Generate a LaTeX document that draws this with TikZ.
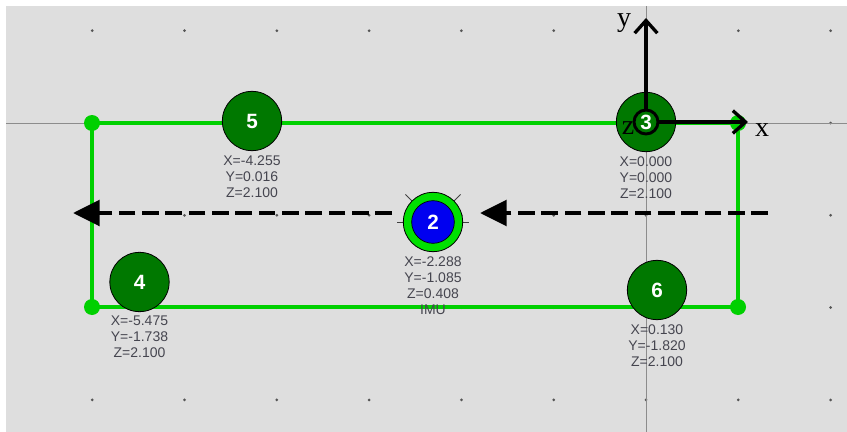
\documentclass[tikz,border=0pt]{standalone}
\usepackage{fontspec}
\setmainfont{Liberation Sans}
\newfontfamily\serifax{Liberation Serif}
\usetikzlibrary{arrows.meta}
\definecolor{bg}{HTML}{DEDEDE}
\definecolor{rectgreen}{HTML}{00D000}
\definecolor{nodegreen}{HTML}{007800}
\definecolor{imugreen}{HTML}{00E000}
\definecolor{imublue}{HTML}{0000F0}
\definecolor{labgray}{HTML}{45454F}
\definecolor{axgray}{HTML}{8C8C8C}
\definecolor{dotgray}{HTML}{555555}
\begin{document}
\begin{tikzpicture}[x=0.75pt,y=-0.75pt,
  numfont/.style={text=white, font=\fontsize{15.5}{15.5}\selectfont\bfseries},
  sensor/.style={circle, draw=black, line width=0.6pt, fill=nodegreen, minimum size=44.5pt, inner sep=0pt, numfont},
  coordlab/.style={text=labgray, font=\fontsize{10.5}{12}\selectfont, align=center, inner sep=0pt, anchor=north},
  greenline/.style={rectgreen, line width=3pt},
  cornerdot/.style={fill=rectgreen},
  axisline/.style={black, line width=2.5pt, -{Straight Barb[length=9.5pt,width=17pt]}},
  axislab/.style={font=\serifax\fontsize{21}{21}\selectfont, inner sep=0pt},
  dasharrow/.style={black, line width=3.5pt, dash pattern=on 12.5pt off 5pt, -{Triangle[length=20pt,width=19pt]}},
  tick/.style={black!75, line width=0.6pt}
]
% background
\useasboundingbox (0,0) rectangle (847,432);
\fill[white] (0,0) rectangle (847,432);
\fill[bg] (6,6) rectangle (847,432);
% grid dots
\foreach \i in {-6,...,2} \foreach \j in {-1,...,3}
  \fill[dotgray] ({646+\i*92.3},{123+\j*92.3}) circle (1.5);
% gray axes
\draw[axgray, line width=0.75pt] (6,123) -- (847,123);
\draw[axgray, line width=0.75pt] (646,6) -- (646,432);
% green rectangle
\coordinate (c1) at (92,123);
\coordinate (c2) at (738,123);
\coordinate (c3) at (738,307);
\coordinate (c4) at (92,307);
\draw[greenline] (c1) -- (c2) -- (c3) -- (c4) -- cycle;
\foreach \c in {c1,c2,c3,c4} \fill[cornerdot] (\c) circle (8);
% sensors
\node[sensor] (n5) at (252,121) {5};
\node[sensor] (n3) at (646,122) {};
\node[sensor] (n4) at (139.5,282) {4};
\node[sensor] (n6) at (657,290) {6};
% IMU node
\foreach \a in {0,180} \draw[tick] ([shift={(\a:28)}]433,222) -- ([shift={(\a:36)}]433,222);
\foreach \a in {-45,-135} \draw[tick] ([shift={(\a:29)}]433,222) -- ([shift={(\a:39)}]433,222);
\node[sensor, fill=imugreen] (n2) at (433,222) {};
\node[circle, draw=black, line width=0.5pt, fill=imublue, minimum size=32pt, inner sep=0pt, numfont] (n2in) at (n2.center) {2};
% coordinate labels
\node[coordlab] (l5) at ([yshift=-3pt]n5.south) {X=-4.255\\Y=0.016\\Z=2.100};
\node[coordlab] (l3) at ([yshift=-3.5pt]n3.south) {X=0.000\\Y=0.000\\Z=2.100};
\node[coordlab] (l4) at ([yshift=-3pt]n4.south) {X=-5.475\\Y=-1.738\\Z=2.100};
\node[coordlab] (l6) at ([yshift=-3pt]n6.south) {X=0.130\\Y=-1.820\\Z=2.100};
\node[coordlab] (l2) at ([yshift=-3pt]n2.south) {X=-2.288\\Y=-1.085\\Z=0.408\\IMU};
% dashed arrows
\coordinate (la) at (392,213);
\coordinate (lb) at (73,213);
\coordinate (ra) at (768,213);
\coordinate (rb) at (480,213);
\draw[dasharrow] (la) -- (lb);
\draw[dasharrow] (ra) -- (rb);
% axes frame at node 3
\coordinate (ytip) at (646,18);
\coordinate (xtip) at (748,122);
\draw[axisline] (n3.center) -- (ytip);
\draw[axisline] (n3.center) -- (xtip);
\node[circle, draw=black, line width=2.2pt, fill=nodegreen, minimum size=18pt, inner sep=0pt, numfont] (n3in) at (n3.center) {3};
\node[axislab] (ylab) at (624,23) {y};
\node[axislab] (xlab) at (762,130) {x};
\node[axislab] (zlab) at (628,128) {z};
\end{tikzpicture}
\end{document}
